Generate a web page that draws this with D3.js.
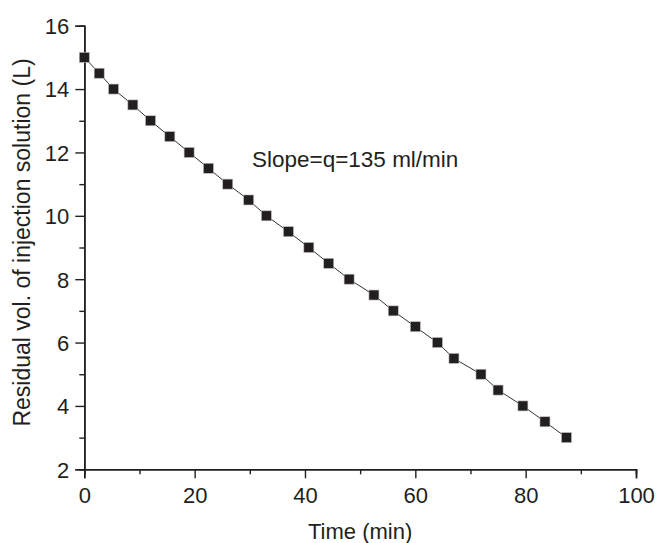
<!DOCTYPE html>
<html>
<head>
<meta charset="utf-8">
<script src="https://cdn.jsdelivr.net/npm/d3@7"></script>
<style>
  html, body { margin: 0; padding: 0; background: #fff; }
  svg { display: block; }
  text { font-family: "Liberation Sans", Arial, sans-serif; fill: #231f20; }
</style>
</head>
<body>
<svg id="chart" width="658" height="543"></svg>
<script>
const timeMin = [0, 2.7, 5.3, 8.8, 12.0, 15.5, 19.0, 22.5, 26.0, 29.8, 33.0, 37.0, 40.7, 44.3, 48.0, 52.5, 56.0, 60.0, 64.0, 67.0, 71.9, 75.0, 79.5, 83.5, 87.4];
const residualVol = [15, 14.5, 14, 13.5, 13, 12.5, 12, 11.5, 11, 10.5, 10, 9.5, 9, 8.5, 8, 7.5, 7, 6.5, 6, 5.5, 5, 4.5, 4, 3.5, 3];
const xTicks = [0, 20, 40, 60, 80, 100];
const yTicks = [2, 4, 6, 8, 10, 12, 14, 16];
const xMinorTicks = [10, 30, 50, 70, 90];
const yMinorTicks = [3, 5, 7, 9, 11, 13, 15];
const xTitle = "Time (min)";
const yTitle = "Residual vol. of injection solution (L)";
const annotation = "Slope=q=135 ml/min";

(function () {
const svg = d3.select("#chart");
const mL = 84.3, mR = 636, mT = 25.7, mB = 469.3;
const x = d3.scaleLinear().domain([0, 100]).range([mL, mR]);
const y = d3.scaleLinear().domain([2, 16]).range([mB, mT]);
const ink = "#231f20";

// X axis
const gx = svg.append("g").attr("transform", `translate(0,${mB})`);
gx.call(d3.axisBottom(x).tickValues(xTicks).tickSize(9).tickPadding(9).tickFormat(d3.format("d")));
gx.append("g").call(d3.axisBottom(x).tickValues(xMinorTicks).tickSize(5).tickFormat(""));
// Y axis
const gy = svg.append("g").attr("transform", `translate(${mL},0)`);
gy.call(d3.axisLeft(y).tickValues(yTicks).tickSize(9).tickPadding(6).tickFormat(d3.format("d")));
gy.append("g").call(d3.axisLeft(y).tickValues(yMinorTicks).tickSize(5).tickFormat(""));

svg.selectAll(".domain").attr("stroke", ink).attr("stroke-width", 1.6);
svg.selectAll(".tick line").attr("stroke", ink).attr("stroke-width", 1.4);
svg.selectAll(".tick text").attr("font-size", 22).attr("fill", ink)
   .style("font-family", '"Liberation Sans", Arial, sans-serif');
gy.selectAll(".tick text").attr("dy", "0.36em");

// Line
const line = d3.line().x((d, i) => x(timeMin[i])).y(d => y(d));
svg.append("path").datum(residualVol).attr("d", line)
   .attr("fill", "none").attr("stroke", "#333").attr("stroke-width", 1);

// Markers
const s = 10;
svg.append("g").selectAll("rect").data(residualVol).join("rect")
  .attr("x", (d, i) => x(timeMin[i]) - s / 2)
  .attr("y", d => y(d) - s / 2)
  .attr("width", s).attr("height", s)
  .attr("fill", ink).attr("stroke", "#bbb").attr("stroke-width", 0.6);

// Titles
svg.append("text").attr("x", (mL + mR) / 2).attr("y", 539)
   .attr("text-anchor", "middle").attr("font-size", 22).text(xTitle);
svg.append("text").attr("transform", `translate(29.5,${242.5}) rotate(-90)`)
   .attr("text-anchor", "middle").attr("font-size", 23).text(yTitle);

// Annotation
svg.append("text").attr("x", 252).attr("y", 166.5).attr("font-size", 22.5).text(annotation);
})();
</script>
</body>
</html>
